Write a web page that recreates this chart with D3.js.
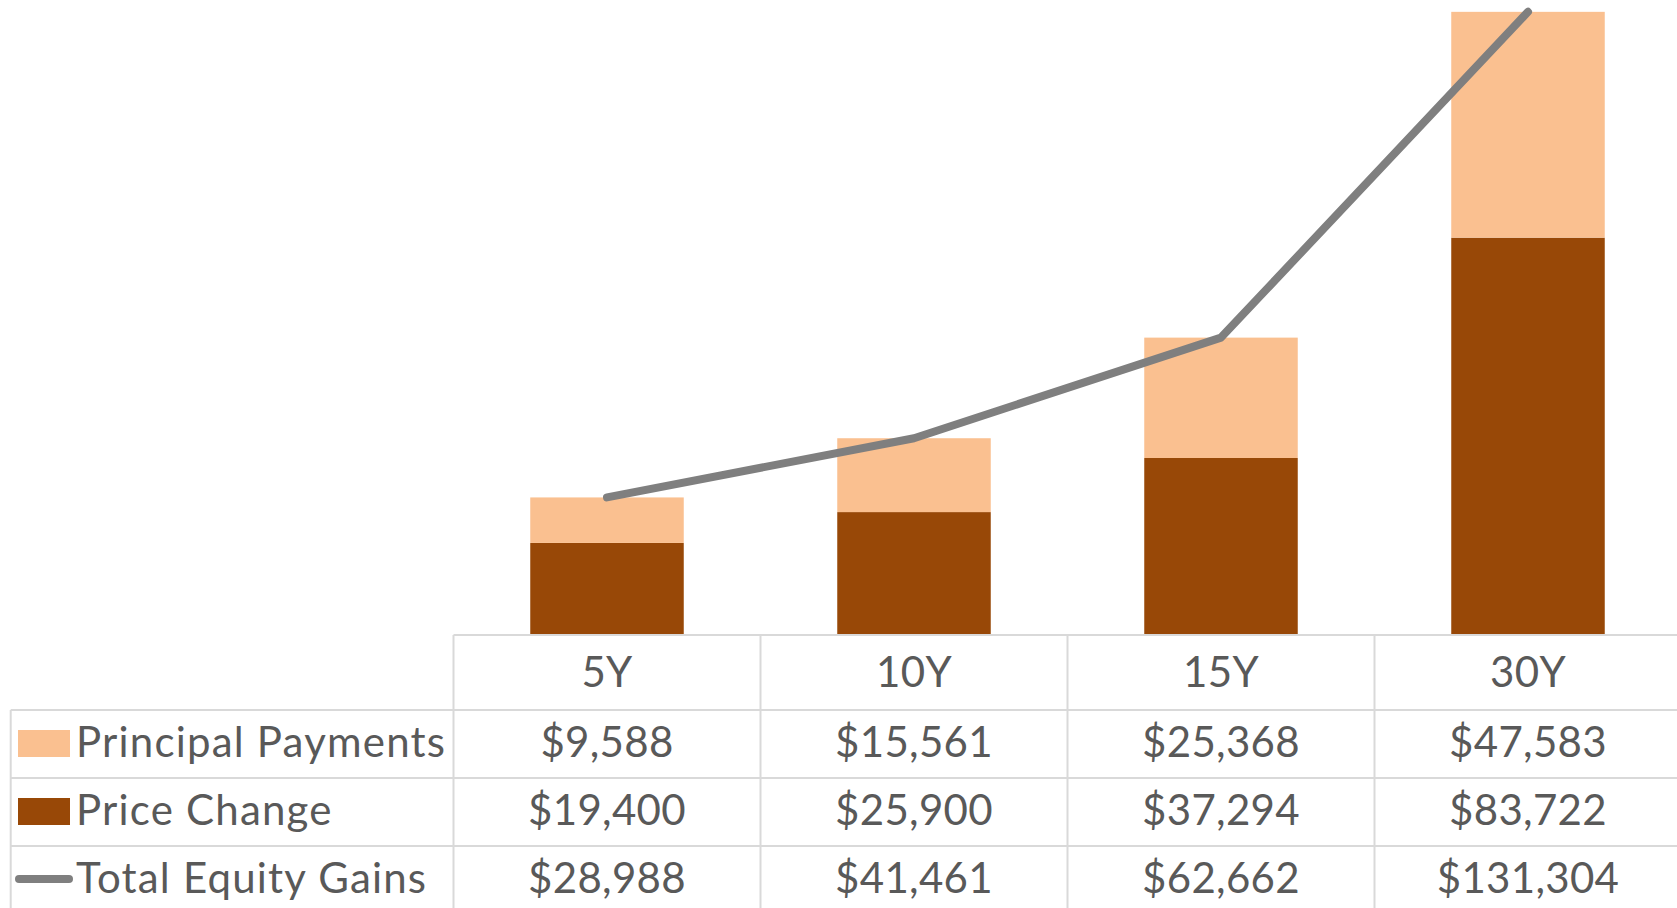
<!DOCTYPE html>
<html>
<head>
<meta charset="utf-8">
<script src="https://cdn.jsdelivr.net/npm/d3@7"></script>
<style>
  html, body { margin: 0; padding: 0; background: #ffffff; overflow: hidden; }
  svg { display: block; }
  text { font-family: Lato, "Open Sans", sans-serif; fill: #595959; }
</style>
</head>
<body>
<svg id="chart" width="1677" height="908"></svg>
<script>
// ---- Data ----
const categories = ["5Y", "10Y", "15Y", "30Y"];
const principalPayments = [9588, 15561, 25368, 47583];
const priceChange = [19400, 25900, 37294, 83722];
const totalEquityGains = [28988, 41461, 62662, 131304];
const seriesNames = ["Principal Payments", "Price Change", "Total Equity Gains"];

// ---- Styling ----
const colLight = "#FAC090";
const colDark = "#984807";
const colLine = "#7F7F7F";
const gridCol = "#D9D9D9";
const fontSize = 42;

const svg = d3.select("#chart");
const W = 1677, H = 908;

const tableLeft = 453.5, tableRight = 1681.5;
const legendLeft = 10.7;
const plotBottom = 635;
const headerBottom = 710;
const rowH = 68;

const xCol = d3.scaleBand().domain(categories).range([tableLeft, tableRight]).padding(0);
const xBar = d3.scaleBand().domain(categories).range([tableLeft, tableRight])
  .paddingInner(0.5).paddingOuter(0.25);
const y = d3.scaleLinear().domain([0, 133800]).range([plotBottom, 0]);

const fmt = v => "$" + d3.format(",")(v);

// ---- Bars (stacked) ----
const stackData = categories.map((c, i) => ({cat: c, price: priceChange[i], principal: principalPayments[i]}));
const stack = d3.stack().keys(["price", "principal"])(stackData);
const barColors = {price: colDark, principal: colLight};

svg.append("g").selectAll("g").data(stack).join("g")
  .attr("fill", d => barColors[d.key])
  .selectAll("rect").data(d => d).join("rect")
  .attr("x", d => xBar(d.data.cat))
  .attr("width", xBar.bandwidth())
  .attr("y", d => y(d[1]))
  .attr("height", d => y(d[0]) - y(d[1]));

// ---- Line ----
const line = d3.line()
  .x((d, i) => xCol(categories[i]) + xCol.bandwidth() / 2)
  .y(d => y(d));
svg.append("path")
  .datum(totalEquityGains)
  .attr("d", line)
  .attr("fill", "none")
  .attr("stroke", colLine)
  .attr("stroke-width", 8)
  .attr("stroke-linecap", "round")
  .attr("stroke-linejoin", "round");

// ---- Data table grid ----
const grid = svg.append("g").attr("stroke", gridCol).attr("stroke-width", 2);
grid.append("line").attr("x1", tableLeft).attr("x2", W).attr("y1", plotBottom).attr("y2", plotBottom);
[0, 1, 2].forEach(r => {
  const yy = headerBottom + r * rowH;
  grid.append("line").attr("x1", legendLeft).attr("x2", W).attr("y1", yy).attr("y2", yy);
});
grid.append("line").attr("x1", legendLeft).attr("x2", legendLeft).attr("y1", headerBottom).attr("y2", H);
categories.forEach(c => {
  const xx = xCol(c);
  grid.append("line").attr("x1", xx).attr("x2", xx).attr("y1", plotBottom).attr("y2", H);
});

// ---- Header row (category labels) ----
svg.append("g").selectAll("text").data(categories).join("text")
  .attr("x", d => xCol(d) + xCol.bandwidth() / 2)
  .attr("y", 687)
  .attr("text-anchor", "middle")
  .attr("font-size", fontSize)
  .attr("letter-spacing", 0.3)
  .text(d => d);

// ---- Value rows ----
const rows = [principalPayments, priceChange, totalEquityGains];
rows.forEach((vals, r) => {
  const rowTop = headerBottom + r * rowH;
  svg.append("g").selectAll("text").data(vals).join("text")
    .attr("x", (d, i) => xCol(categories[i]) + xCol.bandwidth() / 2)
    .attr("y", rowTop + 47)
    .attr("text-anchor", "middle")
    .attr("font-size", fontSize)
    .attr("letter-spacing", 0.3)
    .text(d => fmt(d));
});

// ---- Legend keys in the table ----
const leg = svg.append("g");
seriesNames.forEach((name, r) => {
  const rowTop = headerBottom + r * rowH;
  const cy = rowTop + rowH / 2;
  if (r < 2) {
    leg.append("rect")
      .attr("x", 18).attr("y", cy - 14).attr("width", 52).attr("height", 27)
      .attr("fill", r === 0 ? colLight : colDark);
  } else {
    leg.append("line")
      .attr("x1", 19).attr("x2", 69).attr("y1", cy - 1).attr("y2", cy - 1)
      .attr("stroke", colLine).attr("stroke-width", 8).attr("stroke-linecap", "round");
  }
  leg.append("text")
    .attr("x", 76)
    .attr("y", rowTop + 47)
    .attr("font-size", fontSize)
    .attr("letter-spacing", 1.2)
    .text(name);
});
</script>
</body>
</html>
